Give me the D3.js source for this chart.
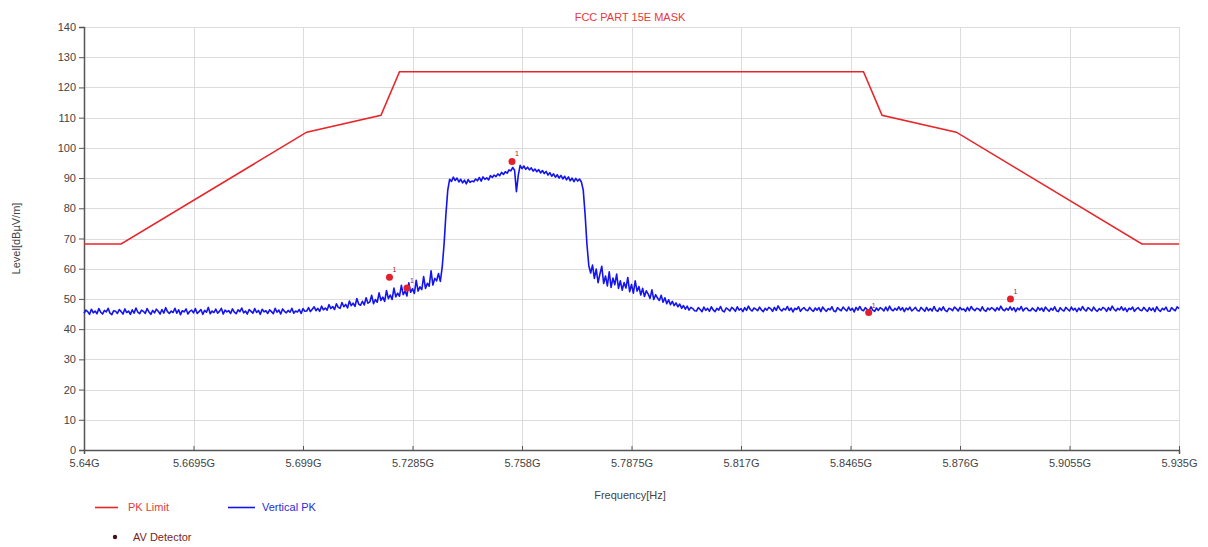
<!DOCTYPE html>
<html>
<head>
<meta charset="utf-8">
<script src="https://cdn.jsdelivr.net/npm/d3@7"></script>
<style>
  html, body { margin: 0; padding: 0; background: #fff; }
  svg { display: block; font-family: "Liberation Sans", Arial, sans-serif; }
</style>
</head>
<body>
<svg id="chart" width="1208" height="547"></svg>
<script>
// ── Data ─────────────────────────────────────────────────────────────────────

const xTicks = [5.64, 5.6695, 5.699, 5.7285, 5.758, 5.7875, 5.817, 5.8465, 5.876, 5.9055, 5.935];
const xTickLabels = ["5.64G", "5.6695G", "5.699G", "5.7285G", "5.758G", "5.7875G", "5.817G", "5.8465G", "5.876G", "5.9055G", "5.935G"];
const yTicks = [0, 10, 20, 30, 40, 50, 60, 70, 80, 90, 100, 110, 120, 130, 140];

// PK Limit (FCC part 15E mask), GHz / dBuV/m
const limitFreq = [5.640, 5.650, 5.700, 5.720, 5.725, 5.850, 5.855, 5.875, 5.925, 5.935];
const limitLevel = [68.2, 68.2, 105.2, 110.8, 125.2, 125.2, 110.8, 105.2, 68.2, 68.2];

// Vertical PK sweep: 5.640 GHz to 5.935 GHz, 0.5 MHz per point
const sweepStart = 5.640;
const sweepStep = 0.0005;
const verticalPK = [
  // 5.640 - 5.6995
  45.2, 46.3, 45.8, 44.9, 46.6, 45.4, 46.0, 45.1, 46.8, 45.6,
  45.0, 46.2, 45.7, 46.9, 45.3, 44.8, 46.1, 45.9, 45.2, 46.5,
  45.8, 45.0, 46.7, 45.5, 46.0, 44.9, 46.4, 45.3, 47.0, 45.6,
  45.1, 46.3, 45.9, 45.2, 46.8, 45.7, 44.9, 46.2, 45.4, 46.6,
  45.9, 45.0, 46.5, 45.3, 47.1, 45.8, 45.2, 46.0, 45.5, 46.9,
  45.3, 46.4, 44.8, 46.1, 45.7, 46.7, 45.0, 45.9, 46.3, 45.4,
  46.8, 45.2, 45.8, 46.5, 44.9, 46.2, 45.6, 47.2, 45.1, 46.0,
  45.5, 46.6, 45.3, 45.9, 46.9, 45.0, 46.3, 45.7, 46.1, 45.2,
  46.7, 45.6, 45.1, 46.4, 45.8, 47.0, 45.4, 46.0, 45.0, 46.5,
  45.9, 45.3, 46.8, 45.5, 46.2, 44.9, 46.6, 45.7, 46.1, 45.2,
  46.4, 45.8, 45.1, 46.9, 45.6, 46.3, 45.0, 46.7, 45.9, 45.4,
  46.2, 45.6, 46.9, 45.3, 46.0, 45.7, 46.5, 45.2, 46.8, 45.9,
  // 5.700 - 5.7345
  46.0, 47.1, 45.8, 46.6, 47.4, 46.1, 46.9, 45.9, 47.6, 46.4,
  47.0, 46.3, 48.1, 46.8, 47.5, 46.5, 48.4, 47.2, 46.9, 48.8,
  47.4, 48.2, 47.0, 49.3, 47.8, 48.6, 47.5, 50.1, 48.3, 47.9,
  49.2, 48.0, 50.4, 48.6, 49.0, 51.2, 48.4, 49.8, 48.9, 52.0,
  49.5, 50.6, 49.2, 52.8, 50.1, 51.3, 49.8, 53.6, 50.7, 51.9,
  50.9, 54.5, 51.4, 52.6, 51.0, 55.3, 52.2, 53.4, 51.8, 56.2,
  52.6, 54.0, 53.1, 57.4, 53.5, 55.2, 54.2, 59.3, 54.6, 56.8,
  // 5.735 - 5.7595 (channel)
  56.0, 58.4, 55.8, 60.5, 68.0, 78.0, 86.0, 89.6, 88.9, 90.3,
  89.2, 90.0, 88.7, 89.6, 88.4, 89.3, 88.1, 89.5, 88.6, 89.0,
  88.8, 89.7, 89.1, 90.2, 89.0, 90.4, 89.6, 90.1, 89.4, 90.8,
  90.2, 91.0, 90.5, 91.4, 90.8, 91.9, 91.2, 92.1, 91.6, 92.7,
  92.4, 93.5, 92.6, 85.5, 91.0, 94.2, 93.1, 94.0, 92.9, 93.6,
  // 5.760 - 5.7795
  92.7, 93.4, 92.3, 93.0, 92.1, 92.8, 91.7, 92.5, 91.5, 92.2,
  91.0, 91.8, 90.6, 91.4, 90.3, 91.1, 90.0, 90.9, 89.7, 90.6,
  89.4, 90.4, 89.1, 90.0, 88.8, 89.9, 89.0, 89.7, 88.7, 86.0,
  78.0, 68.0, 61.0, 58.6, 61.2, 56.8, 59.9, 55.4, 58.3, 60.8,
  // 5.780 - 5.8045
  55.1, 57.6, 54.3, 59.0, 53.8, 56.9, 54.7, 58.2, 53.5, 56.0,
  52.9, 55.4, 53.6, 57.1, 52.4, 54.8, 51.9, 56.0, 52.6, 54.1,
  51.3, 53.5, 50.8, 52.7, 51.6, 50.2, 53.0, 49.8, 51.4, 50.3,
  49.5, 51.2, 48.9, 50.4, 48.4, 49.7, 48.1, 49.2, 47.8, 48.7,
  47.4, 48.3, 46.9, 47.8, 46.6, 47.6, 46.3, 47.2, 46.8, 46.1,
  // 5.805 - 5.935
  46.0, 47.1, 46.5, 45.8, 47.3, 46.2, 46.9, 45.9, 47.4, 46.4,
  45.8, 46.9, 46.3, 47.5, 46.1, 45.7, 47.0, 46.6, 46.0, 47.2,
  46.7, 45.9, 47.4, 46.3, 46.8, 45.8, 47.1, 46.2, 47.6, 46.5,
  46.0, 47.0, 46.6, 46.1, 47.3, 46.4, 45.8, 46.9, 46.3, 47.2,
  46.8, 45.9, 47.2, 46.2, 47.7, 46.6, 46.0, 46.8, 46.4, 47.5,
  46.2, 47.0, 45.7, 46.9, 46.5, 47.4, 45.9, 46.7, 47.1, 46.3,
  46.1, 47.2, 46.4, 45.9, 47.0, 46.3, 47.1, 45.8, 47.3, 46.5,
  45.9, 46.8, 46.4, 47.4, 46.0, 45.8, 47.1, 46.5, 46.1, 47.3,
  46.6, 46.0, 47.3, 46.2, 46.9, 45.7, 47.2, 46.3, 47.5, 46.4,
  46.1, 47.1, 46.5, 46.0, 47.4, 46.3, 45.9, 47.0, 46.2, 47.1,
  46.7, 46.0, 47.3, 46.1, 47.6, 46.5, 46.1, 46.9, 46.3, 47.4,
  46.3, 47.1, 45.8, 47.0, 46.4, 47.3, 46.0, 46.6, 47.2, 46.2,
  46.0, 47.2, 46.6, 45.9, 47.2, 46.1, 46.8, 46.0, 47.5, 46.3,
  45.9, 47.0, 46.2, 47.4, 46.2, 45.8, 46.9, 46.7, 46.1, 47.3,
  46.8, 46.0, 47.2, 46.4, 46.7, 45.9, 47.2, 46.1, 47.5, 46.6,
  46.1, 46.9, 46.7, 46.0, 47.4, 46.3, 45.9, 47.0, 46.4, 47.1,
  46.7, 46.0, 47.1, 46.3, 47.6, 46.5, 46.1, 46.9, 46.3, 47.4,
  46.3, 47.1, 45.8, 47.0, 46.4, 47.5, 46.0, 46.8, 47.0, 46.2,
  46.1, 47.0, 46.4, 45.9, 47.2, 46.3, 47.0, 45.9, 47.3, 46.6,
  45.9, 46.9, 46.3, 47.4, 46.1, 45.8, 47.1, 46.4, 46.0, 47.2,
  46.6, 46.0, 47.3, 46.3, 46.9, 45.8, 47.0, 46.2, 47.5, 46.5,
  46.0, 47.1, 46.6, 46.0, 47.3, 46.4, 45.9, 46.8, 46.3, 47.2,
  46.8, 45.9, 47.1, 46.2, 47.6, 46.6, 46.0, 46.9, 46.4, 47.4,
  46.2, 47.0, 45.8, 46.9, 46.5, 47.3, 45.9, 46.7, 47.1, 46.3,
  46.1, 47.2, 46.5, 45.9, 47.1, 46.2, 47.0, 45.8, 47.4, 46.4,
  45.9, 46.9, 46.4, 47.3, 46.0, 45.9, 47.1, 46.5, 46.1, 47.4,
  46.8
];

// AV Detector readings
const avFreq = [5.7223, 5.7270, 5.7553, 5.8514, 5.8896];
const avLevel = [57.2, 53.6, 95.5, 45.5, 50.0];

// ── Chart ────────────────────────────────────────────────────────────────────

const svg = d3.select("#chart");
const margin = { top: 27, left: 84, right: 29, bottom: 97 };
const width = 1208, height = 547;

const x = d3.scaleLinear().domain([5.64, 5.935]).range([margin.left, width - margin.right]);
const y = d3.scaleLinear().domain([0, 140]).range([height - margin.bottom, margin.top]);

// grid
const grid = svg.append("g").attr("stroke", "#dcdcdc").attr("stroke-width", 1);
for (const t of xTicks) {
  grid.append("line")
    .attr("x1", Math.round(x(t)) + 0.5).attr("x2", Math.round(x(t)) + 0.5)
    .attr("y1", y(140)).attr("y2", y(0));
}
for (const t of yTicks) {
  grid.append("line")
    .attr("x1", x(5.64)).attr("x2", x(5.935))
    .attr("y1", Math.round(y(t)) + 0.5).attr("y2", Math.round(y(t)) + 0.5);
}

// axes
const xAxis = d3.axisBottom(x).tickValues(xTicks).tickSize(4).tickPadding(5)
  .tickFormat((d, i) => xTickLabels[i]);
const yAxis = d3.axisLeft(y).tickValues(yTicks).tickSize(5).tickPadding(3);

const gx = svg.append("g").attr("transform", `translate(0,${y(0)})`).call(xAxis);
gx.selectAll(".tick line").attr("y1", -4).attr("y2", 0);
const gy = svg.append("g").attr("transform", `translate(${x(5.64)},0)`).call(yAxis);

for (const g of [gx, gy]) {
  g.select(".domain").attr("stroke", "#555").attr("stroke-width", 1.5);
  g.selectAll(".tick line").attr("stroke", "#555");
  g.selectAll(".tick text").attr("fill", "#444").attr("font-size", "11px")
    .attr("font-family", "'Liberation Sans', Arial, sans-serif");
}

// title + axis labels
svg.append("text")
  .attr("x", 630).attr("y", 21)
  .attr("text-anchor", "middle").attr("font-size", "11px")
  .attr("fill", "#e8383c").text("FCC PART 15E MASK");

svg.append("text")
  .attr("x", 630).attr("y", 499)
  .attr("text-anchor", "middle").attr("font-size", "11px")
  .attr("fill", "#444").text("Frequency[Hz]");

svg.append("text")
  .attr("transform", `translate(20,${(y(0) + y(140)) / 2}) rotate(-90)`)
  .attr("text-anchor", "middle").attr("font-size", "11px")
  .attr("fill", "#444").text("Level[dBµV/m]");

// limit line
const limitData = limitFreq.map((f, i) => [f, limitLevel[i]]);
svg.append("path")
  .datum(limitData)
  .attr("fill", "none").attr("stroke", "#e8262a").attr("stroke-width", 1.6)
  .attr("d", d3.line().x((d) => x(d[0])).y((d) => y(d[1])));

// vertical PK trace
const pkData = verticalPK.map((v, i) => [sweepStart + i * sweepStep, v]);
svg.append("path")
  .datum(pkData)
  .attr("fill", "none").attr("stroke", "#1414f0").attr("stroke-width", 1.6)
  .attr("stroke-linejoin", "round")
  .attr("d", d3.line().x((d) => x(d[0])).y((d) => y(d[1])));

// AV detector markers
const av = svg.append("g");
avFreq.forEach((f, i) => {
  av.append("circle")
    .attr("cx", x(f)).attr("cy", y(avLevel[i])).attr("r", 3.5)
    .attr("fill", "#e4202a");
  av.append("text")
    .attr("x", x(f) + 3).attr("y", y(avLevel[i]) - 5)
    .attr("font-size", "7px").attr("fill", "#a02030").text("1");
});

// legend
const legend = svg.append("g");
legend.append("line").attr("x1", 95).attr("x2", 118).attr("y1", 507.5).attr("y2", 507.5)
  .attr("stroke", "#e8262a").attr("stroke-width", 1.6);
legend.append("text").attr("x", 128).attr("y", 511).attr("font-size", "11px")
  .attr("fill", "#e8383c").text("PK Limit");

legend.append("line").attr("x1", 228).attr("x2", 255).attr("y1", 507.5).attr("y2", 507.5)
  .attr("stroke", "#1414f0").attr("stroke-width", 1.6);
legend.append("text").attr("x", 262).attr("y", 511).attr("font-size", "11px")
  .attr("fill", "#2b2bd8").text("Vertical PK");

legend.append("circle").attr("cx", 115).attr("cy", 537).attr("r", 2.2).attr("fill", "#4a1010");
legend.append("text").attr("x", 133).attr("y", 541).attr("font-size", "11px")
  .attr("fill", "#7a1e24").text("AV Detector");
</script>
</body>
</html>
